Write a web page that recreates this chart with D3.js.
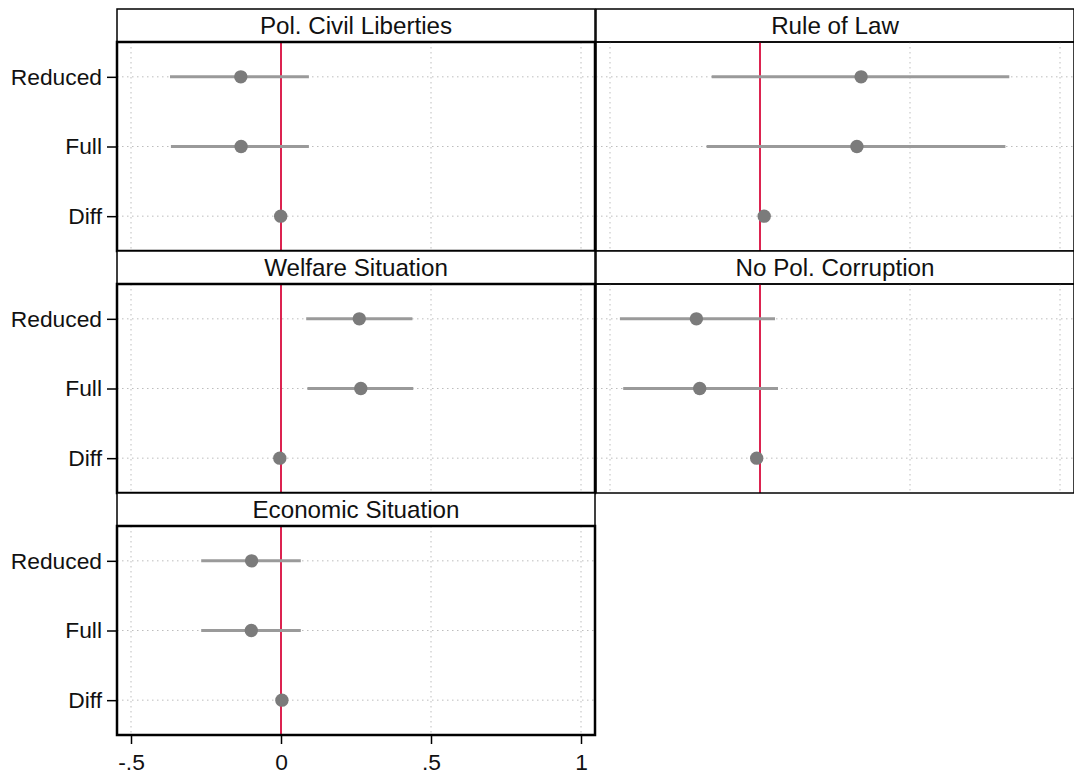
<!DOCTYPE html>
<html>
<head>
<meta charset="utf-8">
<script src="https://cdn.jsdelivr.net/npm/d3@7/dist/d3.min.js"></script>
<style>
  html, body { margin: 0; padding: 0; background: #fff; }
  svg { display: block; font-family: "Liberation Sans", Arial, sans-serif; }
  .grid line { stroke: #bdbdbd; stroke-width: 1; stroke-dasharray: 1.5,3.5; }
  .axis path, .axis line { stroke: #000; }
  .axis text { fill: #111; font-size: 22.8px; }
</style>
</head>
<body>
<svg id="chart" width="1074" height="775"></svg>
<script>
// panels in reading order (2 columns)
const panels = ["Pol. Civil Liberties", "Rule of Law", "Welfare Situation", "No Pol. Corruption", "Economic Situation"];
const models = ["Reduced", "Full", "Diff"];

// point estimates per panel, in models order
const estimates = [
  [-0.134, -0.133, -0.001],
  [0.337, 0.323, 0.014],
  [0.261, 0.266, -0.004],
  [-0.212, -0.201, -0.011],
  [-0.098, -0.099, 0.003]
];
// confidence interval bounds
const lower = [
  [-0.370, -0.367, -0.006],
  [-0.161, -0.178, 0.008],
  [0.084, 0.088, -0.009],
  [-0.467, -0.456, -0.017],
  [-0.266, -0.266, -0.002]
];
const upper = [
  [0.093, 0.093, 0.004],
  [0.831, 0.818, 0.020],
  [0.438, 0.441, 0.001],
  [0.050, 0.060, -0.005],
  [0.066, 0.066, 0.008]
];
const xTicks = [-0.5, 0, 0.5, 1];

const svg = d3.select("#chart");

// layout of the facet grid
const colX = [117, 596];
const plotW = 478;
const top0 = 9;
const cellH = 242;
const stripH = 33;
const plotH = cellH - stripH;

const x = d3.scaleLinear()
  .domain([-0.5 - 14 / 300, 1 + 14 / 300])
  .range([0, plotW]);

const y = d3.scalePoint()
  .domain(models)
  .range([0, plotH])
  .padding(0.5);

const fmt = d => d === 0 ? "0" : String(d).replace("0.", ".");

panels.forEach((title, i) => {
  const col = i % 2;
  const row = Math.floor(i / 2);
  const g = svg.append("g")
    .attr("transform", `translate(${colX[col]},${top0 + row * cellH})`);

  // strip with title
  g.append("rect")
    .attr("x", 0).attr("y", 0)
    .attr("width", plotW).attr("height", stripH)
    .attr("fill", "#fff")
    .attr("stroke", "#000").attr("stroke-width", 1.5);
  g.append("text")
    .attr("x", plotW / 2).attr("y", stripH / 2 + 8.5)
    .attr("text-anchor", "middle")
    .attr("font-size", 24.2)
    .attr("fill", "#111")
    .text(title);

  const p = g.append("g").attr("transform", `translate(0,${stripH})`);

  // dotted grid
  const grid = p.append("g").attr("class", "grid");
  grid.selectAll(".gx").data(xTicks).join("line")
    .attr("x1", d => x(d)).attr("x2", d => x(d))
    .attr("y1", 0).attr("y2", plotH);
  grid.selectAll(".gy").data(models).join("line")
    .attr("x1", 0).attr("x2", plotW)
    .attr("y1", d => y(d)).attr("y2", d => y(d));

  // zero reference line
  p.append("line")
    .attr("x1", x(0)).attr("x2", x(0))
    .attr("y1", 0).attr("y2", plotH)
    .attr("stroke", "#dc2350").attr("stroke-width", 2);

  const rows = models.map((m, j) => ({ m, est: estimates[i][j], lo: lower[i][j], hi: upper[i][j] }));

  p.selectAll(".ci").data(rows).join("line")
    .attr("x1", d => x(d.lo)).attr("x2", d => x(d.hi))
    .attr("y1", d => y(d.m)).attr("y2", d => y(d.m))
    .attr("stroke", "#9a9a9a").attr("stroke-width", 3);

  p.selectAll(".pt").data(rows).join("circle")
    .attr("cx", d => x(d.est)).attr("cy", d => y(d.m))
    .attr("r", 6.7)
    .attr("fill", "#7b7b7b");

  // plot frame
  p.append("rect")
    .attr("width", plotW).attr("height", plotH)
    .attr("fill", "none")
    .attr("stroke", "#000").attr("stroke-width", col === 0 ? 2.5 : 1.5);

  if (col === 0) {
    const ya = p.append("g").attr("class", "axis")
      .call(d3.axisLeft(y).tickSize(10).tickPadding(5));
    ya.select(".domain").remove();
    ya.selectAll("line").attr("stroke-width", 1.5);
  }

  if (i === panels.length - 1) {
    const xa = p.append("g").attr("class", "axis")
      .attr("transform", `translate(0,${plotH})`)
      .call(d3.axisBottom(x).tickValues(xTicks).tickFormat(fmt).tickSize(9).tickPadding(10));
    xa.select(".domain").remove();
    xa.selectAll("line").attr("stroke-width", 1.5);
  }
});
</script>
</body>
</html>
